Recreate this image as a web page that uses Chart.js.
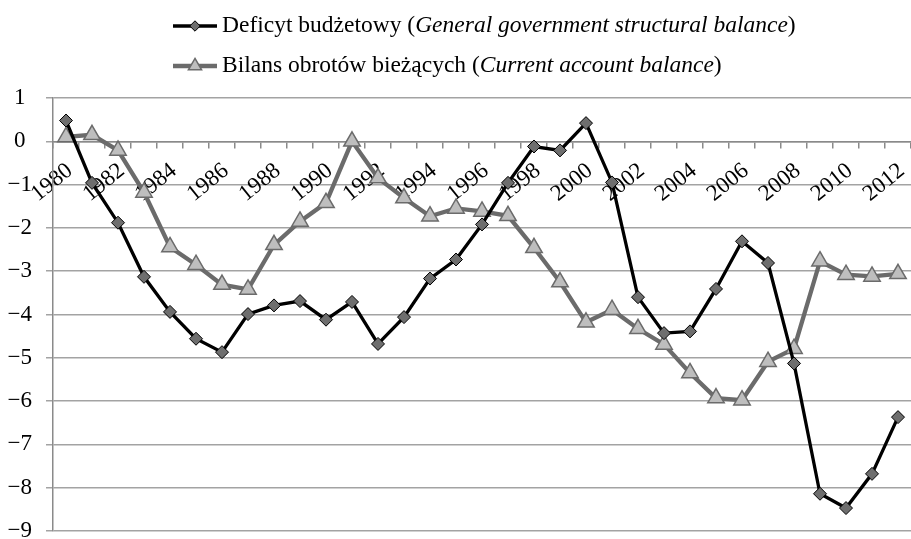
<!DOCTYPE html>
<html lang="pl">
<head>
<meta charset="utf-8">
<title>Deficyt budżetowy i bilans obrotów bieżących</title>
<script src="https://cdn.jsdelivr.net/npm/chart.js@4/dist/chart.umd.min.js"></script>
<style>
  html, body { margin: 0; padding: 0; background: #ffffff; overflow: hidden; }
  #wrap { width: 911px; height: 539px; }
</style>
</head>
<body>
<div id="wrap"><canvas id="chart" width="911" height="539"></canvas></div>
<script>
// Years on the category axis
const years = ['1980','1981','1982','1983','1984','1985','1986','1987','1988','1989',
               '1990','1991','1992','1993','1994','1995','1996','1997','1998','1999',
               '2000','2001','2002','2003','2004','2005','2006','2007','2008','2009',
               '2010','2011','2012'];

// General government structural balance (% of GDP)
const structuralBalance = [0.48, -0.96, -1.88, -3.13, -3.94, -4.56, -4.87, -3.99, -3.79, -3.69,
                           -4.12, -3.71, -4.68, -4.06, -3.17, -2.73, -1.92, -0.96, -0.12, -0.21,
                           0.42, -0.95, -3.60, -4.43, -4.39, -3.41, -2.31, -2.81, -5.13, -8.14,
                           -8.47, -7.68, -6.37];

// Current account balance (% of GDP)
const currentAccount = [0.10, 0.15, -0.21, -1.18, -2.44, -2.85, -3.31, -3.42, -2.39, -1.85,
                        -1.42, 0.00, -0.85, -1.31, -1.73, -1.55, -1.62, -1.72, -2.46, -3.25,
                        -4.18, -3.89, -4.33, -4.69, -5.35, -5.93, -5.98, -5.09, -4.79, -2.77,
                        -3.08, -3.12, -3.06];

// Value axis range
const yMin = -9;
const yMax = 1;

// Legend entries: plain part, italic part, closing part
const legendEntries = [
  { pre: 'Deficyt budżetowy (', ital: 'General government structural balance', post: ')' },
  { pre: 'Bilans obrotów bieżących (', ital: 'Current account balance', post: ')' }
];

const FONT = '"Liberation Serif", "Times New Roman", serif';
const FONT_SIZE = 23;
const LEGEND_FONT_SIZE = 23.5;
const GRID = '#a3a3a3';
const AXIS = '#8a8a8a';

const seriesStyles = [
  { line: '#000000', width: 3.3, point: 'rectRot', radius: 6.5, fill: '#6e6e6e', border: '#000000', bw: 1 },
  { line: '#6b6b6b', width: 4.3, point: 'triangle', radius: 9.5, fill: '#bebebe', border: '#6b6b6b', bw: 1.5 }
];

const fmt = v => (v < 0 ? '\u2212' + Math.abs(v) : String(v));

// Two-row legend above the plot: a short line with the series marker, then the label
const topLegend = {
  id: 'topLegend',
  afterDraw(chart) {
    const ctx = chart.ctx;
    const rows = [26, 66];
    const lineX0 = 173, lineX1 = 217, textX = 222;
    ctx.save();
    legendEntries.forEach((entry, i) => {
      const s = seriesStyles[i];
      const y = rows[i];
      ctx.strokeStyle = s.line;
      ctx.lineWidth = s.width;
      ctx.beginPath();
      ctx.moveTo(lineX0, y);
      ctx.lineTo(lineX1, y);
      ctx.stroke();
      ctx.fillStyle = s.fill;
      ctx.strokeStyle = s.border;
      ctx.lineWidth = s.bw;
      Chart.helpers.drawPoint(ctx, { pointStyle: s.point, radius: s.radius * 0.8, rotation: 0, borderWidth: s.bw },
                              (lineX0 + lineX1) / 2, y);
      ctx.fillStyle = '#000000';
      ctx.textBaseline = 'middle';
      ctx.textAlign = 'left';
      let x = textX;
      ctx.font = LEGEND_FONT_SIZE + 'px ' + FONT;
      ctx.fillText(entry.pre, x, y);
      x += ctx.measureText(entry.pre).width;
      ctx.font = 'italic ' + LEGEND_FONT_SIZE + 'px ' + FONT;
      ctx.fillText(entry.ital, x, y);
      x += ctx.measureText(entry.ital).width;
      ctx.font = LEGEND_FONT_SIZE + 'px ' + FONT;
      ctx.fillText(entry.post, x, y);
    });
    ctx.restore();
  }
};

new Chart(document.getElementById('chart'), {
  type: 'line',
  data: {
    labels: years,
    datasets: [
      {
        label: legendEntries[0].pre + legendEntries[0].ital + legendEntries[0].post,
        data: structuralBalance,
        borderColor: seriesStyles[0].line,
        borderWidth: seriesStyles[0].width,
        pointStyle: seriesStyles[0].point,
        pointRadius: seriesStyles[0].radius,
        pointBackgroundColor: seriesStyles[0].fill,
        pointBorderColor: seriesStyles[0].border,
        pointBorderWidth: seriesStyles[0].bw,
        tension: 0,
        order: 1
      },
      {
        label: legendEntries[1].pre + legendEntries[1].ital + legendEntries[1].post,
        data: currentAccount,
        borderColor: seriesStyles[1].line,
        borderWidth: seriesStyles[1].width,
        pointStyle: seriesStyles[1].point,
        pointRadius: seriesStyles[1].radius,
        pointBackgroundColor: seriesStyles[1].fill,
        pointBorderColor: seriesStyles[1].border,
        pointBorderWidth: seriesStyles[1].bw,
        tension: 0,
        order: 2
      }
    ]
  },
  options: {
    responsive: false,
    animation: false,
    devicePixelRatio: 1,
    layout: { autoPadding: false, padding: { top: 98, bottom: 8, left: 0, right: 0 } },
    plugins: {
      legend: { display: false },
      tooltip: { enabled: false }
    },
    scales: {
      x: {
        type: 'category',
        position: { y: 0 },
        offset: true,
        afterFit: scale => {
          scale.height = 0;
          scale.paddingLeft = 0;
          scale.paddingRight = 0;
        },
        grid: { display: true, drawOnChartArea: false, offset: true, tickLength: 6, color: AXIS, lineWidth: 1.5 },
        border: { display: true, color: AXIS, width: 1.5 },
        ticks: {
          autoSkip: false,
          maxRotation: 39,
          minRotation: 39,
          padding: 10,
          labelOffset: 4,
          color: '#000000',
          font: { family: FONT, size: FONT_SIZE },
          callback: function (value, index) {
            return index % 2 === 0 ? this.getLabelForValue(value) : '';
          }
        }
      },
      y: {
        min: yMin,
        max: yMax,
        afterFit: scale => {
          scale.width = 53;
          scale.paddingTop = 0;
          scale.paddingBottom = 0;
        },
        grid: { color: GRID, lineWidth: 1.5, tickLength: 7 },
        border: { display: true, color: AXIS, width: 1.5 },
        ticks: {
          stepSize: 1,
          padding: 14,
          crossAlign: 'center',
          color: '#000000',
          font: { family: FONT, size: FONT_SIZE, lineHeight: 0.5 },
          callback: v => fmt(v)
        }
      }
    }
  },
  plugins: [topLegend]
});
</script>
</body>
</html>
